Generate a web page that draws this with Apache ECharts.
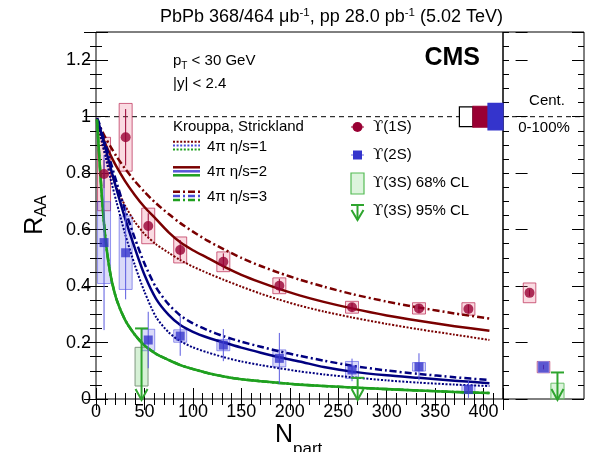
<!DOCTYPE html>
<html><head><meta charset="utf-8">
<script src="https://cdn.jsdelivr.net/npm/echarts@6/dist/echarts.min.js"></script>
<style>html,body{margin:0;padding:0;background:#fff}#c{width:595px;height:452px}</style>
</head><body><div id="c"></div>
<script>
// ---------------- data ----------------
const npBins = [8.3, 30.6, 53.9, 86.9, 131.4, 189.2, 264.2, 333.3, 384.3];
const raa1S  = [0.797, 0.927, 0.613, 0.528, 0.486, 0.401, 0.325, 0.321, 0.319];
const stat1S = [0.05, 0.10, 0.045, 0.035, 0.03, 0.025, 0.015, 0.015, 0.015];
const syst1S = [0.13, 0.12, 0.063, 0.046, 0.035, 0.028, 0.021, 0.02, 0.022];
const raa2S  = [0.554, 0.518, 0.209, 0.223, 0.191, 0.144, 0.103, 0.114, 0.034];
const stat2S = [0.31, 0.165, 0.10, 0.07, 0.057, 0.09, 0.04, 0.048, 0.03];
const syst2S = [0.145, 0.13, 0.038, 0.022, 0.02, 0.03, 0.03, 0.015, 0.015];

const np3S      = [47, 270];
const lim3S95   = [0.25, 0.075];
const np3SBox   = [47];
const cl68Lo3S  = [0.046];
const cl68Hi3S  = [0.183];

// integrated (0-100%) : position 1 = 1S, 2 = 2S, 3 = 3S
const intStates = ['ϒ(1S)', 'ϒ(2S)', 'ϒ(3S)'];
const intRaa    = [0.376, 0.113];
const intStat   = [0.012, 0.008];
const intSyst   = [0.035, 0.02];
const int3S95   = 0.094;
const int3S68   = [0.0, 0.056];

// global uncertainties at RAA = 1
const globalEdges = [375, 389, 404.5, 420];
const globalUnc   = [0.035, 0.037, 0.047];

// theory (Krouppa, Strickland)
const npModel = [1, 3, 6, 10, 15, 21, 30, 40, 50, 62, 75, 87, 100, 115, 132, 150, 170, 189, 210, 235, 264, 300, 333, 370, 406];
const th1S_1 = [0.99, 0.955, 0.91, 0.86, 0.805, 0.75, 0.685, 0.628, 0.585, 0.548, 0.518, 0.492, 0.469, 0.446, 0.422, 0.398, 0.373, 0.352, 0.331, 0.31, 0.289, 0.266, 0.247, 0.228, 0.209];
const th1S_2 = [0.99, 0.964, 0.935, 0.901, 0.864, 0.824, 0.772, 0.723, 0.68, 0.637, 0.59, 0.555, 0.527, 0.5, 0.469, 0.44, 0.413, 0.39, 0.367, 0.344, 0.321, 0.296, 0.277, 0.258, 0.242];
const th1S_3 = [0.995, 0.974, 0.951, 0.924, 0.894, 0.86, 0.816, 0.772, 0.734, 0.693, 0.655, 0.623, 0.593, 0.561, 0.53, 0.5, 0.471, 0.447, 0.423, 0.398, 0.372, 0.345, 0.324, 0.303, 0.285];
const th2S_1 = [0.99, 0.965, 0.915, 0.855, 0.78, 0.70, 0.585, 0.475, 0.38, 0.29, 0.236, 0.205, 0.183, 0.165, 0.148, 0.133, 0.12, 0.109, 0.098, 0.087, 0.077, 0.066, 0.058, 0.051, 0.046];
const th2S_2 = [0.99, 0.975, 0.935, 0.885, 0.82, 0.745, 0.64, 0.535, 0.44, 0.355, 0.298, 0.262, 0.238, 0.218, 0.2, 0.182, 0.164, 0.148, 0.133, 0.113, 0.097, 0.084, 0.075, 0.065, 0.056];
const th2S_3 = [0.995, 0.98, 0.945, 0.90, 0.84, 0.77, 0.67, 0.57, 0.48, 0.395, 0.335, 0.296, 0.268, 0.244, 0.222, 0.203, 0.185, 0.169, 0.153, 0.136, 0.118, 0.101, 0.089, 0.077, 0.067];
// the three 3S curves overlap within the line width in the picture
const th3S_1 = [0.99, 0.88, 0.72, 0.56, 0.44, 0.355, 0.28, 0.228, 0.19, 0.16, 0.138, 0.12, 0.106, 0.092, 0.08, 0.07, 0.063, 0.057, 0.051, 0.046, 0.041, 0.035, 0.03, 0.025, 0.021];
const th3S_2 = [0.99, 0.88, 0.72, 0.56, 0.44, 0.355, 0.28, 0.228, 0.19, 0.16, 0.138, 0.12, 0.106, 0.092, 0.08, 0.07, 0.063, 0.057, 0.051, 0.046, 0.041, 0.035, 0.03, 0.025, 0.021];
const th3S_3 = [0.99, 0.88, 0.72, 0.56, 0.44, 0.355, 0.28, 0.228, 0.19, 0.16, 0.138, 0.12, 0.106, 0.092, 0.08, 0.07, 0.063, 0.057, 0.051, 0.046, 0.041, 0.035, 0.03, 0.025, 0.021];

const xTicksMajor = 50, xTicksMinor = 10, yTicksMajor = 0.2, yTicksMinor = 0.05;

// ---------------- chart ----------------
const FONT = 'Liberation Sans, Arial, Helvetica, sans-serif';
const C1 = '#990033', C2 = '#3434cc', C3 = '#2ea52e';
const L1 = '#7a0000', L2 = '#000080', L3 = '#1fa01f';

const chart = echarts.init(document.getElementById('c'), null, {renderer: 'canvas'});

function tickAxis(type, gridIndex, position, min, max, interval, len, labels) {
  const ax = {
    type: 'value', gridIndex, position, min, max, interval,
    axisLine: {show: false},
    splitLine: {show: false},
    axisTick: {show: true, inside: true, length: len, lineStyle: {color: '#000', width: 1}},
    axisLabel: {show: false}
  };
  if (labels) {
    ax.axisLabel = {
      show: true, color: '#000', fontSize: 18, fontFamily: FONT, margin: type === 'x' ? 4 : 5,
      formatter: v => {
        const k = v / interval;
        if (Math.abs(k - Math.round(k)) > 1e-6) return '';
        return String(+v.toFixed(2));
      }
    };
  }
  return ax;
}

const xAxes = [
  tickAxis('x', 0, 'bottom', 0, 420, xTicksMajor, 11, true),
  tickAxis('x', 0, 'bottom', 0, 420, xTicksMinor, 6, false),
  tickAxis('x', 0, 'top', 0, 420, xTicksMajor, 11, false),
  tickAxis('x', 0, 'top', 0, 420, xTicksMinor, 6, false),
  {type: 'value', gridIndex: 1, position: 'bottom', min: -0.9, max: 4.9,
   axisLine: {show: false}, axisTick: {show: false}, axisLabel: {show: false}, splitLine: {show: false}}
];
const yAxes = [
  tickAxis('y', 0, 'left', 0, 1.3, yTicksMajor, 12, true),
  tickAxis('y', 0, 'left', 0, 1.3, yTicksMinor, 6, false),
  tickAxis('y', 0, 'right', 0, 1.3, yTicksMajor, 12, false),
  tickAxis('y', 0, 'right', 0, 1.3, yTicksMinor, 6, false),
  tickAxis('y', 1, 'left', 0, 1.3, yTicksMajor, 12, false),
  tickAxis('y', 1, 'left', 0, 1.3, yTicksMinor, 6, false),
  tickAxis('y', 1, 'right', 0, 1.3, yTicksMajor, 12, false),
  tickAxis('y', 1, 'right', 0, 1.3, yTicksMinor, 6, false)
];

function boxSeries(xs, lo, hi, halfW, fill, stroke, xi, yi) {
  return {
    type: 'custom', xAxisIndex: xi, yAxisIndex: yi, z: 2, silent: true,
    data: xs.map((x, i) => [x, lo[i], hi[i]]),
    renderItem(params, api) {
      const x = api.value(0), l = api.value(1), h = api.value(2);
      const p1 = api.coord([x - halfW, h]);
      const p2 = api.coord([x + halfW, l]);
      return {type: 'rect', shape: {x: p1[0], y: p1[1], width: p2[0] - p1[0], height: p2[1] - p1[1]},
              style: {fill, stroke, lineWidth: 1}};
    }
  };
}
function systBox(xs, ys, errs, halfW, fill, stroke, xi, yi) {
  return boxSeries(xs, ys.map((y, i) => y - errs[i]), ys.map((y, i) => y + errs[i]), halfW, fill, stroke, xi, yi);
}
function errSeries(xs, ys, errs, color, xi, yi) {
  return {
    type: 'custom', xAxisIndex: xi, yAxisIndex: yi, z: 4, silent: true,
    data: xs.map((x, i) => [x, ys[i] - errs[i], ys[i] + errs[i]]),
    renderItem(params, api) {
      const a = api.coord([api.value(0), api.value(1)]);
      const b = api.coord([api.value(0), api.value(2)]);
      return {type: 'line', shape: {x1: a[0], y1: a[1], x2: b[0], y2: b[1]}, style: {stroke: color, lineWidth: 1}};
    }
  };
}
function arrowSeries(xs, lims, halfW, xi, yi) {
  return {
    type: 'custom', xAxisIndex: xi, yAxisIndex: yi, z: 6, silent: true,
    data: xs.map((x, i) => [x, lims[i]]),
    renderItem(params, api) {
      const x = api.value(0), lim = api.value(1);
      const t = api.coord([x, lim]), b = api.coord([x, 0]);
      const l = api.coord([x - halfW, lim]), r = api.coord([x + halfW, lim]);
      const st = {stroke: C3, lineWidth: 2, fill: null};
      return {type: 'group', children: [
        {type: 'line', shape: {x1: l[0], y1: t[1], x2: r[0], y2: t[1]}, style: st},
        {type: 'line', shape: {x1: t[0], y1: t[1], x2: t[0], y2: b[1]}, style: st},
        {type: 'polyline', shape: {points: [[b[0] - 6, b[1] - 10], [b[0], b[1] + 1], [b[0] + 6, b[1] - 10]]}, style: st}
      ]};
    }
  };
}
function curve(vals, color, width, dash, z) {
  return {
    type: 'line', xAxisIndex: 0, yAxisIndex: 0, z: z || 3, silent: true,
    data: npModel.map((x, i) => [x, vals[i]]),
    showSymbol: false, smooth: 0.25,
    lineStyle: {color, width, type: dash, cap: 'butt', join: 'round'}, animation: false
  };
}
const DOT = [2, 1.6], DASHDOT = [7, 3, 2, 3];

const intIdx = intRaa.map((v, i) => i + 1);

const series = [
  {type: 'line', xAxisIndex: 0, yAxisIndex: 0, data: [[0, 1], [420, 1]], showSymbol: false, silent: true, z: 1,
   lineStyle: {color: '#000', width: 1, type: [5, 4]}},
  {type: 'line', xAxisIndex: 4, yAxisIndex: 4, data: [[-0.9, 1], [4.9, 1]], showSymbol: false, silent: true, z: 1,
   lineStyle: {color: '#000', width: 1, type: [5, 4]}},
  {type: 'custom', xAxisIndex: 0, yAxisIndex: 0, z: 5, silent: true,
   data: globalUnc.map((u, i) => [globalEdges[i], globalEdges[i + 1], u, i]),
   renderItem(params, api) {
     const i = api.value(3), u = api.value(2);
     const fills = ['#ffffff', C1, C2], strokes = ['#000000', C1, C2];
     const p1 = api.coord([api.value(0), 1 + u]), p2 = api.coord([api.value(1), 1 - u]);
     return {type: 'rect', shape: {x: p1[0], y: p1[1], width: p2[0] - p1[0], height: p2[1] - p1[1]},
             style: {fill: fills[i], stroke: strokes[i], lineWidth: 1.2}};
   }},
  systBox(npBins, raa1S, syst1S, 6.7, 'rgba(235,110,140,0.25)', 'rgba(190,50,90,0.75)', 0, 0),
  systBox(npBins, raa2S, syst2S, 6.7, 'rgba(70,70,225,0.2)', 'rgba(70,70,225,0.55)', 0, 0),
  boxSeries(np3SBox, cl68Lo3S, cl68Hi3S, 6.7, 'rgba(120,210,120,0.3)', '#7f987f', 0, 0),
  curve(th1S_1, L1, 2, DOT), curve(th1S_3, L1, 2.5, DASHDOT), curve(th1S_2, L1, 2.5, 'solid'),
  curve(th2S_1, L2, 2, DOT), curve(th2S_3, L2, 2.5, DASHDOT), curve(th2S_2, L2, 2.5, 'solid'),
  curve(th3S_1, L3, 2, DOT), curve(th3S_3, L3, 2.5, DASHDOT), curve(th3S_2, L3, 2.6, 'solid'),
  errSeries(npBins, raa1S, stat1S, C1, 0, 0),
  errSeries(npBins, raa2S, stat2S, '#5a5ae0', 0, 0),
  {type: 'scatter', xAxisIndex: 0, yAxisIndex: 0, z: 7, silent: true, symbol: 'circle', symbolSize: 10,
   itemStyle: {color: C1}, data: npBins.map((x, i) => [x, raa1S[i]])},
  {type: 'scatter', xAxisIndex: 0, yAxisIndex: 0, z: 7, silent: true, symbol: 'rect', symbolSize: 9,
   itemStyle: {color: C2}, data: npBins.map((x, i) => [x, raa2S[i]])},
  arrowSeries(np3S, lim3S95, 6.7, 0, 0),
  systBox(intIdx, intRaa, intSyst, 0.45, 'rgba(235,110,140,0.25)', 'rgba(190,50,90,0.75)', 4, 4),
  boxSeries([3], [int3S68[0]], [int3S68[1]], 0.47, 'rgba(120,210,120,0.25)', '#6cc06c', 4, 4),
  errSeries(intIdx, intRaa, intStat, C1, 4, 4),
  {type: 'scatter', xAxisIndex: 4, yAxisIndex: 4, z: 7, silent: true, symbol: 'circle', symbolSize: 10,
   itemStyle: {color: C1}, data: [[1, intRaa[0]]]},
  {type: 'scatter', xAxisIndex: 4, yAxisIndex: 4, z: 7, silent: true, symbol: 'rect', symbolSize: 11,
   itemStyle: {color: C2, borderColor: '#8a8ae8', borderWidth: 1}, data: [[2, intRaa[1]]]},
  arrowSeries([3], [int3S95], 0.47, 4, 4)
];

// ---------------- annotations ----------------
const T = (x, y, text, size, extra) => Object.assign({type: 'text', x, y, z: 100, silent: true,
  style: Object.assign({text, fontSize: size, fontFamily: FONT, fill: '#000', align: 'left', verticalAlign: 'middle'}, extra || {})});
const Ln = (x1, y1, x2, y2, color, width, dash) => ({type: 'line', z: 100, silent: true,
  shape: {x1, y1, x2, y2}, style: {stroke: color, lineWidth: width, lineDash: dash || null}});
const upsRich = {u: {fontFamily: 'DejaVu Serif', fontSize: 15, fill: '#000'}};
const UT = (x, y, rest) => ({type: 'text', x, y, z: 100, silent: true, style: {
  text: '{u|ϒ}' + rest, fontSize: 15, fontFamily: FONT, fill: '#000', align: 'left', verticalAlign: 'middle', rich: upsRich}});

const graphic = [
  {type: 'text', x: 503, y: 17, z: 100, silent: true, style: {
    text: 'PbPb 368/464 μb{s|-1}, pp 28.0 pb{s|-1} (5.02 TeV)', align: 'right', verticalAlign: 'middle',
    fontSize: 18, fontFamily: FONT, fill: '#000', lineHeight: 20,
    rich: {s: {fontSize: 11.5, fontFamily: FONT, lineHeight: 14, verticalAlign: 'top', fill: '#000'}}}},
  T(480, 58, 'CMS', 25, {align: 'right', fontWeight: 'bold'}),
  {type: 'text', x: 173, y: 61, z: 100, silent: true, style: {
    text: 'p{s|T} < 30 GeV', align: 'left', verticalAlign: 'middle', fontSize: 15, fontFamily: FONT, fill: '#000', lineHeight: 20,
    rich: {s: {fontSize: 10, fontFamily: FONT, lineHeight: 10, verticalAlign: 'bottom', fill: '#000'}}}},
  T(173, 84, '|y| < 2.4', 15),
  T(173, 127, 'Krouppa, Strickland', 15),
  Ln(173, 141.7, 200, 141.7, L1, 2, [2, 1.6]),
  Ln(173, 145.5, 200, 145.5, '#4b4bd6', 2, [2, 1.6]),
  Ln(173, 149.5, 200, 149.5, L3, 2, [2, 1.6]),
  T(207, 147, '4π η/s=1', 15),
  Ln(173, 167.3, 200, 167.3, L1, 2.5),
  Ln(173, 171.3, 200, 171.3, '#5656d6', 2.5),
  Ln(173, 175.3, 200, 175.3, L3, 2.5),
  T(207, 172, '4π η/s=2', 15),
  Ln(173, 191.7, 200, 191.7, L1, 2.5, [7, 3, 2, 3]),
  Ln(173, 196, 200, 196, '#4b4bd6', 2.5, [7, 3, 2, 3]),
  Ln(173, 200, 200, 200, L3, 2.5, [7, 3, 2, 3]),
  T(207, 197, '4π η/s=3', 15),
  Ln(351, 127, 364, 127, C1, 1),
  {type: 'circle', z: 100, silent: true, shape: {cx: 357.5, cy: 127, r: 5}, style: {fill: C1}},
  UT(373, 127, '(1S)'),
  Ln(351, 155, 364, 155, '#6a6ae0', 1),
  {type: 'rect', z: 100, silent: true, shape: {x: 353, y: 150.5, width: 9, height: 9}, style: {fill: C2}},
  UT(373, 155, '(2S)'),
  {type: 'rect', z: 100, silent: true, shape: {x: 351, y: 173, width: 13, height: 21}, style: {fill: 'rgba(120,210,120,0.25)', stroke: '#55bb55', lineWidth: 1.2}},
  UT(373, 183, '(3S) 68% CL'),
  Ln(351, 205, 364, 205, C3, 2),
  Ln(357.5, 205, 357.5, 220, C3, 2),
  {type: 'polyline', z: 100, silent: true, shape: {points: [[351.5, 210], [357.5, 220], [363.5, 210]]}, style: {stroke: C3, lineWidth: 2, fill: null}},
  UT(373, 211, '(3S) 95% CL'),
  T(547, 101, 'Cent.', 15, {align: 'center'}),
  T(544, 128, '0-100%', 15, {align: 'center'}),
  T(293, 435, 'N', 25, {align: 'right'}),
  T(293, 449, 'part', 17, {align: 'left'}),
  {type: 'text', x: 35, y: 215, rotation: Math.PI / 2, z: 100, silent: true, style: {
    text: 'R{s|AA}', align: 'center', verticalAlign: 'middle', fontSize: 25, fontFamily: FONT, fill: '#000', lineHeight: 30,
    rich: {s: {fontSize: 16, fontFamily: FONT, lineHeight: 16, verticalAlign: 'bottom', fill: '#000'}}}}
];

chart.setOption({
  animation: false,
  backgroundColor: '#fff',
  textStyle: {fontFamily: FONT},
  grid: [
    {left: 96, top: 32, width: 407, height: 367, show: true, borderColor: '#000', borderWidth: 1, backgroundColor: 'transparent', containLabel: false, outerBoundsMode: 'none'},
    {left: 503, top: 32, width: 81, height: 367, show: true, borderColor: '#000', borderWidth: 1, backgroundColor: 'transparent', containLabel: false, outerBoundsMode: 'none'}
  ],
  xAxis: xAxes,
  yAxis: yAxes,
  series,
  graphic
});
</script></body></html>
